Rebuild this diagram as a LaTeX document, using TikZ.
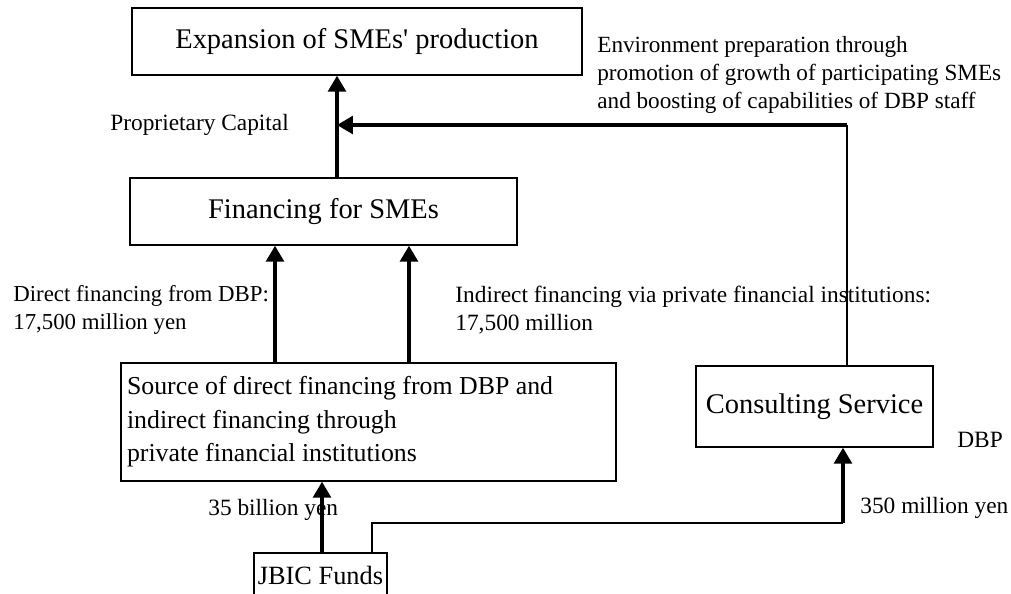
\documentclass[tikz,border=0pt]{standalone}
\usepackage{fontspec}
\setmainfont{Liberation Serif}
\usetikzlibrary{arrows.meta}
\begin{document}
\begin{tikzpicture}[x=0.02cm, y=-0.02cm,
  box/.style={draw, line width=0.8pt, inner sep=0pt, font=\fontsize{16.2}{19}\selectfont},
  flow/.style={line width=2pt, -{Triangle[width=10pt,length=9pt]}},
  link/.style={line width=0.6pt},
  lbl/.style={inner sep=0pt, align=left, font=\fontsize{13.3}{16}\selectfont}]
  \useasboundingbox (0,0) rectangle (1011,593);
  % boxes
  \node[box, minimum width=9cm, minimum height=1.34cm] (exp) at (357,41.5) {Expansion of SMEs\textquotesingle{} production};
  \node[box, minimum width=7.74cm, minimum height=1.34cm] (fin) at (323.5,211.5) {Financing for SMEs};
  \node[box, font=\fontsize{14.7}{19}\selectfont, minimum width=9.9cm, minimum height=2.36cm,
        text width=9.66cm, inner xsep=0.12cm, align=flush left] (src) at (368.5,422)
        {Source of direct financing from DBP and\\indirect financing through\\private financial institutions};
  \node[box, minimum width=4.74cm, minimum height=1.62cm] (cons) at (814.5,406.5) {Consulting Service};
  \node[box, font=\fontsize{15}{18}\selectfont, minimum width=2.66cm, minimum height=0.88cm] (jbic) at (320.5,575) {JBIC Funds};
  % labels
  \node[lbl, anchor=base west] (cap) at (110,130) {Proprietary Capital};
  \node[lbl, anchor=west, font=\fontsize{13.2}{16}\selectfont] (env) at (597,75)
        {Environment preparation through\\promotion of growth of participating SMEs\\and boosting of capabilities of DBP staff};
  \node[lbl, anchor=west, font=\fontsize{13}{16}\selectfont] (dir) at (13,310) {Direct financing from DBP:\\17,500 million yen};
  \node[lbl, anchor=west] (ind) at (455,310) {Indirect financing via private financial institutions:\\17,500 million};
  \node[lbl, anchor=base west] (dbp) at (957,447) {DBP};
  \node[lbl, anchor=base west] (cyen) at (860,513) {350 million yen};
  \node[lbl, anchor=base west] (byen) at (208,515) {35 billion yen};
  % connectors
  \coordinate (join) at (337,125);
  \coordinate (turn) at (847,125);
  \coordinate (dl) at (275,0);
  \coordinate (dr) at (409,0);
  \coordinate (up) at (322,0);
  \coordinate (bend) at (372,523);
  \coordinate (foot) at (843,523);
  \draw[flow] (fin.north -| join) -- (exp.south -| join);
  \draw[link] (cons.north -| turn) -- (turn);
  \draw[flow] (turn) -- (join);
  \draw[flow] (src.north -| dl) -- (fin.south -| dl);
  \draw[flow] (src.north -| dr) -- (fin.south -| dr);
  \draw[flow] (jbic.north -| up) -- (src.south -| up);
  \draw[link] (jbic.north -| bend) -- (bend) -- (foot);
  \draw[flow] (foot) -- (cons.south -| foot);
\end{tikzpicture}
\end{document}
